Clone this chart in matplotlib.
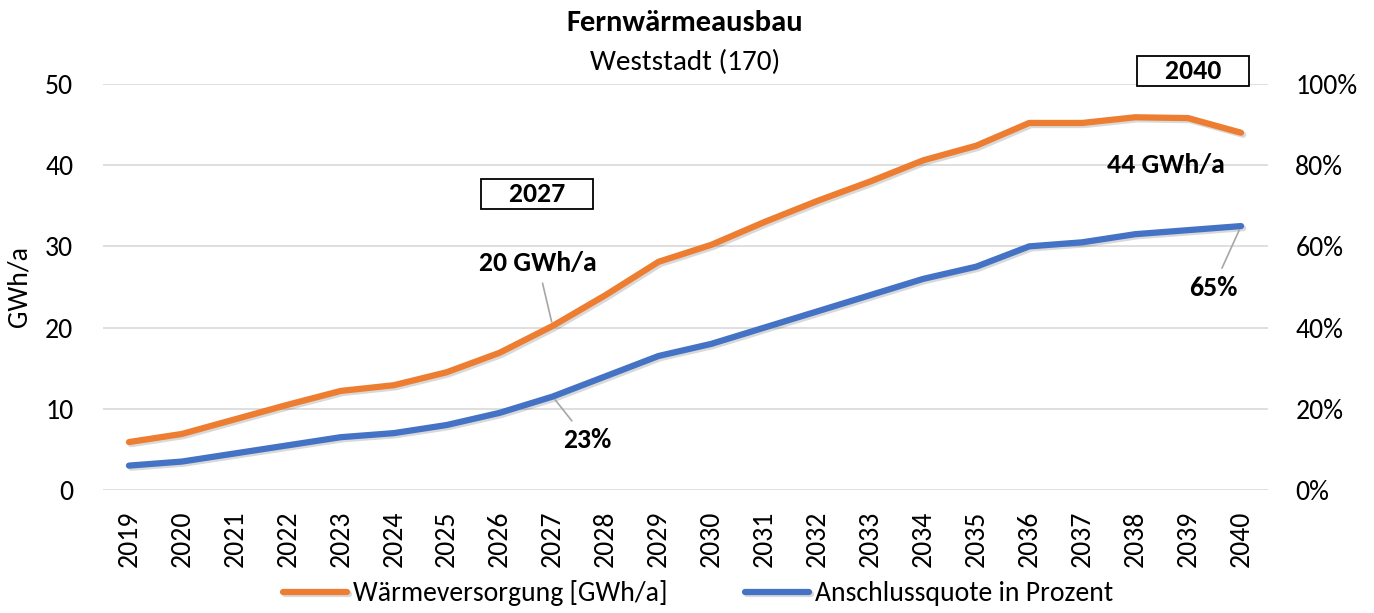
import matplotlib
matplotlib.use("Agg")
import matplotlib.pyplot as plt
import matplotlib.patheffects as pe
from matplotlib.ticker import FuncFormatter

years = list(range(2019, 2041))
waerme = [5.9, 6.9, 8.7, 10.5, 12.2, 12.9, 14.5, 16.9, 20.2, 24.0, 28.1, 30.2,
          33.0, 35.6, 38.0, 40.6, 42.4, 45.2, 45.2, 45.9, 45.8, 44.0]
quote = [6, 7, 9, 11, 13, 14, 16, 19, 23, 28, 33, 36,
         40, 44, 48, 52, 55, 60, 61, 63, 64, 65]

ORANGE = "#ED7D31"
BLUE = "#4472C4"
FS = 20

plt.rcParams['font.family'] = ['Carlito', 'Lato', 'DejaVu Sans']
plt.rcParams['font.size'] = FS

fig = plt.figure(figsize=(13.74, 6.13), dpi=100)
ax = fig.add_axes([0.0746, 0.2007, 0.8479, 0.6623])
ax2 = ax.twinx()

xs = list(range(len(years)))
shadow = [pe.SimpleLineShadow(offset=(1.5, -1.5), alpha=0.15), pe.Normal()]
l1, = ax.plot(xs, waerme, color=ORANGE, lw=4.5, solid_capstyle='round',
              path_effects=shadow, label="Wärmeversorgung [GWh/a]")
l2, = ax2.plot(xs, quote, color=BLUE, lw=4.5, solid_capstyle='round',
               path_effects=shadow, label="Anschlussquote in Prozent")

ax.set_xlim(-0.5, len(years) - 0.5)
ax.set_ylim(0, 50)
ax2.set_ylim(0, 100)
ax.set_yticks(range(0, 51, 10))
ax2.set_yticks(range(0, 101, 20))
ax2.yaxis.set_major_formatter(FuncFormatter(lambda v, p: f"{int(v)}%"))
ax.set_xticks(xs)
ax.set_xticklabels([str(y) for y in years], rotation=90)
ax.grid(axis='y', color='#D9D9D9', lw=1.2)
ax.set_axisbelow(True)
for a in (ax, ax2):
    for s in a.spines.values():
        s.set_visible(False)
    a.tick_params(length=0, labelsize=FS)
ax.tick_params(axis='y', pad=21)
ax2.tick_params(axis='y', pad=20)
ax.tick_params(axis='x', pad=15)
ax.set_ylabel("GWh/a", labelpad=10, fontsize=FS)

fig.text(0.4985, 0.962, "Fernwärmeausbau", ha='center', va='center',
         fontsize=FS + 2, fontweight='bold')
fig.text(0.4985, 0.898, "Weststadt (170)", ha='center', va='center', fontsize=FS + 1)

box = dict(boxstyle='square,pad=0.1', fc='white', ec='black', lw=1.3)
ax.text(7.7, 36.45, "    2027    ", ha='center', va='center', fontsize=FS,
        fontweight='bold', bbox=box)
ax.text(20.1, 51.6, "    2040    ", ha='center', va='center', fontsize=FS,
        fontweight='bold', bbox=box, clip_on=False)

lead = dict(arrowstyle='-', color='#A6A6A6', lw=1.2, shrinkA=4, shrinkB=3)
ax.annotate("20 GWh/a", xy=(8, waerme[8]), xytext=(7.72, 27.95),
            ha='center', va='center', fontsize=FS, fontweight='bold',
            arrowprops=lead)
ax.text(19.58, 40.0, "44 GWh/a", ha='center', va='center', fontsize=FS,
        fontweight='bold')
ax2.annotate("23%", xy=(8, quote[8]), xytext=(8.65, 12.3),
             ha='center', va='center', fontsize=FS, fontweight='bold',
             arrowprops=lead)
ax2.annotate("65%", xy=(21, quote[21]), xytext=(20.47, 49.75),
             ha='center', va='center', fontsize=FS, fontweight='bold',
             arrowprops=lead)

fig.legend(handles=[l1, l2], loc='lower center', bbox_to_anchor=(0.508, -0.03),
           ncol=2, frameon=False, handlelength=2.3, handletextpad=0.2,
           columnspacing=2.8, fontsize=FS)

fig.savefig("out.png", dpi=100)
